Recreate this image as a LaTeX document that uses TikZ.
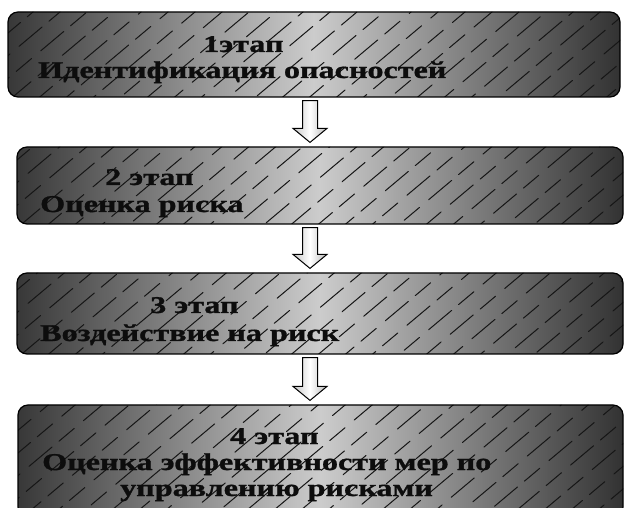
\documentclass[tikz,border=0pt]{standalone}
\usepackage{fontspec}
\setmainfont{Liberation Serif}
\newfontfamily\stagefont[FakeStretch=1.34,FakeBold=1.2]{Liberation Serif}
\usetikzlibrary{calc}
\definecolor{boxdark}{HTML}{383838}
\definecolor{boxlight}{HTML}{CCCCCC}
\definecolor{hatchcol}{HTML}{161616}
\tikzset{
  hatch/.style={draw=hatchcol, line width=1pt, line cap=round,
    dash pattern=on 30pt off 9pt on 20pt off 12pt},
  stagebox/.style={draw=black, line width=1.2pt, rounded corners=10pt,
    inner sep=0pt, left color=boxdark, right color=boxdark!90!black,
    middle color=boxlight,
    path picture={
      \foreach \i in {-6,...,23}{
        \draw[hatch, dash phase=\i*7pt]
          ($(path picture bounding box.south west)+(\i*27,4)$) -- ++(150,-126);
      }
    }},
  stagetext/.style={font=\stagefont\bfseries\fontsize{24}{27}\selectfont,
    text=black!95, anchor=base west, inner sep=0pt},
  blockarrow/.style={draw=black, line width=1pt, line join=miter,
    left color=gray!45, right color=gray!55, middle color=white}
}
\begin{document}
\begin{tikzpicture}[x=1pt,y=-1pt]
\useasboundingbox (0,0) rectangle (625,508);
\coordinate (ax) at (310,0);
% boxes
\node[stagebox, minimum width=612pt, minimum height=85pt] (b1) at (314,54.5) {};
\node[stagebox, minimum width=606pt, minimum height=77pt] (b2) at (320,185.5) {};
\node[stagebox, minimum width=606pt, minimum height=81pt] (b3) at (320,313.5) {};
\node[stagebox, minimum width=605pt, minimum height=112pt] (b4) at (320.5,461) {};
% texts
\node[stagetext] (t1a) at (203,52) {1этап};
\node[stagetext] (t1b) at (38,78) {Идентификация опасностей};
\node[stagetext] (t2a) at (105,185) {2 этап};
\node[stagetext] (t2b) at (40,212) {Оценка риска};
\node[stagetext] (t3a) at (150,313) {3 этап};
\node[stagetext] (t3b) at (40,341) {Воздействие на риск};
\node[stagetext] (t4a) at (230,444) {4 этап};
\node[stagetext] (t4b) at (42,470) {Оценка эффективности мер по};
\node[stagetext] (t4c) at (120,496) {управлению рисками};
% arrows
\foreach \u/\v in {b1/b2, b2/b3, b3/b4}{
  \draw[blockarrow] let \p1=(ax |- \u.south), \p2=(ax |- \v.north) in
    (\x1-7.5pt,\y1-3pt) -- (\x1+7.5pt,\y1-3pt) -- (\x1+7.5pt,\y2+18pt)
    -- (\x1+17pt,\y2+18pt) -- (\x1,\y2+4pt) -- (\x1-17pt,\y2+18pt)
    -- (\x1-7.5pt,\y2+18pt) -- cycle;
}
\end{tikzpicture}
\end{document}
